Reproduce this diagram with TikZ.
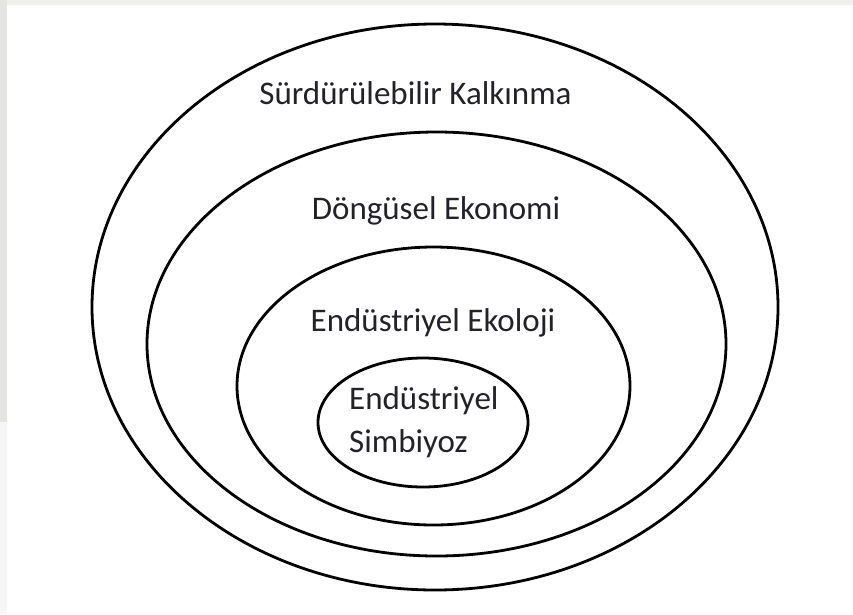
\documentclass[tikz,border=0pt]{standalone}
\usepackage{fontspec}
\setmainfont{Carlito}
\usepackage{xcolor}
\usetikzlibrary{shapes.geometric}

\definecolor{edgegray}{RGB}{228,228,224}
\definecolor{stripgray}{RGB}{238,238,235}
\definecolor{lowgray}{RGB}{246,246,246}
\definecolor{txt}{RGB}{34,34,40}

\begin{document}
\begin{tikzpicture}[
    x=1pt, y=-1pt,
    ring/.style={draw=black, line width=2.8pt, ellipse, inner sep=0pt, outer sep=0pt},
    lbl/.style={font=\fontsize{33}{43}\selectfont, text=txt, inner sep=0pt}
]
%% Canvas with the scanned gray margins
\fill[white] (0,0) rectangle (853,614);
\useasboundingbox (0,0) rectangle (853,614);
\fill[stripgray] (0,0) rectangle (853,5);
\fill[edgegray] (0,0) rectangle (7,422);
\fill[lowgray] (0,422) rectangle (7,614);
%% Nested ellipses, outermost first
\node[ring, minimum width=686pt, minimum height=566pt] (kalkinma) at (435,307) {};
\node[ring, minimum width=579pt, minimum height=424pt] (ekonomi) at (436.5,344) {};
\node[ring, minimum width=393pt, minimum height=278pt] (ekoloji) at (433.5,386) {};
\node[ring, minimum width=210pt, minimum height=129pt] (simbiyoz) at (423,422.5) {};
%% Labels
\node[lbl] (t-kalkinma) at (415.5,93) {Sürdürülebilir Kalkınma};
\node[lbl] (t-ekonomi) at (436,211) {Döngüsel Ekonomi};
\node[lbl] (t-ekoloji) at (433,323) {Endüstriyel Ekoloji};
\node[lbl, align=left, anchor=west] (t-simbiyoz) at (349,422.5) {Endüstriyel\\Simbiyoz};
\end{tikzpicture}
\end{document}
